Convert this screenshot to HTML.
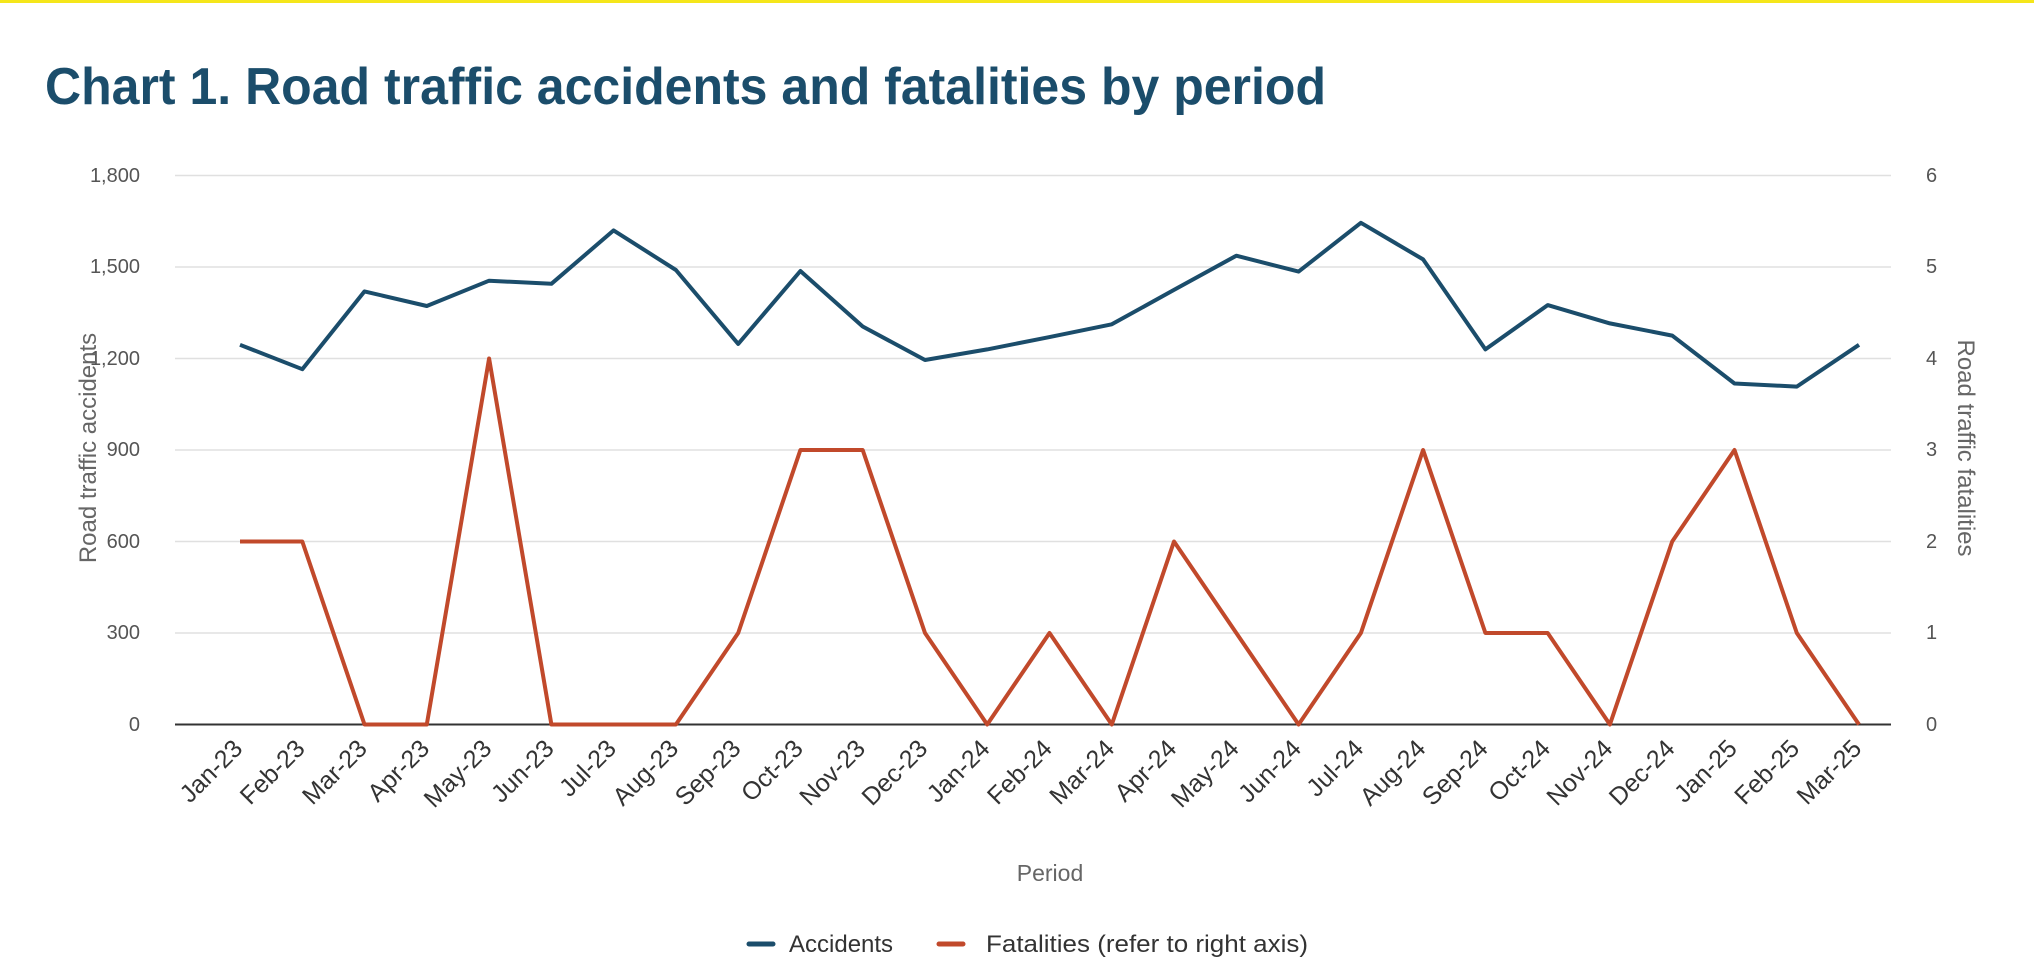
<!DOCTYPE html>
<html><head><meta charset="utf-8"><style>
html,body{margin:0;padding:0;background:#fff;}
svg{display:block;}
text{font-family:"Liberation Sans",sans-serif;}
</style></head><body>
<svg width="2034" height="957" viewBox="0 0 2034 957" xmlns="http://www.w3.org/2000/svg">
<rect x="0" y="0" width="2034" height="3" fill="#f5e61a"/>
<text x="45" y="104" font-size="52" font-weight="bold" fill="#1b4d6b" textLength="1281" lengthAdjust="spacingAndGlyphs">Chart 1. Road traffic accidents and fatalities by period</text>
<g stroke="#e0e0e0" stroke-width="1.5">
<line x1="175" y1="175.5" x2="1891" y2="175.5"/>
<line x1="175" y1="267" x2="1891" y2="267"/>
<line x1="175" y1="358.5" x2="1891" y2="358.5"/>
<line x1="175" y1="450" x2="1891" y2="450"/>
<line x1="175" y1="541.5" x2="1891" y2="541.5"/>
<line x1="175" y1="633" x2="1891" y2="633"/>
</g>
<line x1="175" y1="724.5" x2="1891" y2="724.5" stroke="#333" stroke-width="2"/>
<g font-size="20" fill="#555" text-anchor="end">
<text x="140" y="182">1,800</text><text x="140" y="273">1,500</text><text x="140" y="365">1,200</text>
<text x="140" y="456">900</text><text x="140" y="548">600</text><text x="140" y="639">300</text><text x="140" y="731">0</text>
</g>
<g font-size="20" fill="#555">
<text x="1926" y="182">6</text><text x="1926" y="273">5</text><text x="1926" y="365">4</text>
<text x="1926" y="456">3</text><text x="1926" y="548">2</text><text x="1926" y="639">1</text><text x="1926" y="731">0</text>
</g>
<text transform="translate(96,448) rotate(-90)" font-size="24" fill="#666" text-anchor="middle">Road traffic accidents</text>
<text transform="translate(1958,448) rotate(90)" font-size="24" fill="#666" text-anchor="middle">Road traffic fatalities</text>
<text x="1050" y="881" font-size="23" fill="#666" text-anchor="middle">Period</text>
<g font-size="25" fill="#333" text-anchor="end">
<text transform="translate(244,750) rotate(-45)">Jan-23</text>
<text transform="translate(306.3,750) rotate(-45)">Feb-23</text>
<text transform="translate(368.5,750) rotate(-45)">Mar-23</text>
<text transform="translate(430.8,750) rotate(-45)">Apr-23</text>
<text transform="translate(493.1,750) rotate(-45)">May-23</text>
<text transform="translate(555.4,750) rotate(-45)">Jun-23</text>
<text transform="translate(617.6,750) rotate(-45)">Jul-23</text>
<text transform="translate(679.9,750) rotate(-45)">Aug-23</text>
<text transform="translate(742.2,750) rotate(-45)">Sep-23</text>
<text transform="translate(804.4,750) rotate(-45)">Oct-23</text>
<text transform="translate(866.7,750) rotate(-45)">Nov-23</text>
<text transform="translate(929,750) rotate(-45)">Dec-23</text>
<text transform="translate(991.2,750) rotate(-45)">Jan-24</text>
<text transform="translate(1053.5,750) rotate(-45)">Feb-24</text>
<text transform="translate(1115.8,750) rotate(-45)">Mar-24</text>
<text transform="translate(1178,750) rotate(-45)">Apr-24</text>
<text transform="translate(1240.3,750) rotate(-45)">May-24</text>
<text transform="translate(1302.6,750) rotate(-45)">Jun-24</text>
<text transform="translate(1364.9,750) rotate(-45)">Jul-24</text>
<text transform="translate(1427.1,750) rotate(-45)">Aug-24</text>
<text transform="translate(1489.4,750) rotate(-45)">Sep-24</text>
<text transform="translate(1551.7,750) rotate(-45)">Oct-24</text>
<text transform="translate(1613.9,750) rotate(-45)">Nov-24</text>
<text transform="translate(1676.2,750) rotate(-45)">Dec-24</text>
<text transform="translate(1738.5,750) rotate(-45)">Jan-25</text>
<text transform="translate(1800.8,750) rotate(-45)">Feb-25</text>
<text transform="translate(1863,750) rotate(-45)">Mar-25</text>
</g>
<polyline fill="none" stroke="#c1492b" stroke-width="4" stroke-linejoin="round" points="240,541.5 302.3,541.5 364.5,724.5 426.8,724.5 489.1,358.5 551.4,724.5 613.6,724.5 675.9,724.5 738.2,633 800.4,450 862.7,450 925,633 987.2,724.5 1049.5,633 1111.8,724.5 1174,541.5 1236.3,633 1298.6,724.5 1360.9,633 1423.1,450 1485.4,633 1547.7,633 1609.9,724.5 1672.2,541.5 1734.5,450 1796.8,633 1859,724.5"/>
<polyline fill="none" stroke="#1b4d6b" stroke-width="4" stroke-linejoin="round" points="240,344.8 302.3,369.2 364.5,291.4 426.8,306 489.1,280.7 551.4,283.8 613.6,230.4 675.9,270 738.2,343.9 800.4,271 862.7,326.5 925,360 987.2,349.4 1049.5,337.1 1111.8,324.3 1174,289.9 1236.3,255.7 1298.6,271.6 1360.9,222.8 1423.1,259.4 1485.4,349.4 1547.7,305.1 1609.9,323.4 1672.2,335.6 1734.5,383.5 1796.8,386.6 1859,344.8"/>
<line x1="749" y1="944" x2="773" y2="944" stroke="#1b4d6b" stroke-width="5" stroke-linecap="round"/>
<text x="789" y="952" font-size="24" fill="#333">Accidents</text>
<line x1="939" y1="944" x2="963" y2="944" stroke="#c1492b" stroke-width="5" stroke-linecap="round"/>
<text x="986" y="952" font-size="24" fill="#333" textLength="322" lengthAdjust="spacingAndGlyphs">Fatalities (refer to right axis)</text>
</svg>
</body></html>
